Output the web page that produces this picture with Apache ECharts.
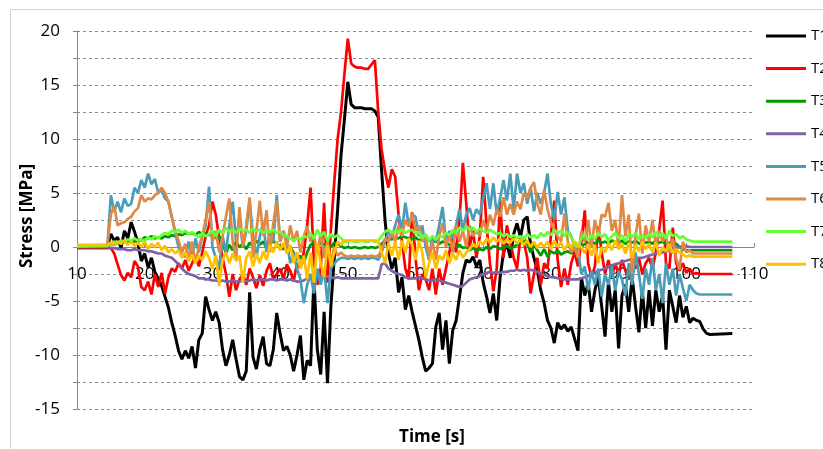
<!DOCTYPE html>
<html>
<head>
<meta charset="utf-8">
<script src="https://cdn.jsdelivr.net/npm/echarts@6/dist/echarts.min.js"></script>
<style>
html,body{margin:0;padding:0;background:#fff;}
#chart{width:823px;height:449px;}
</style>
</head>
<body>
<div id="chart"></div>
<script>
// Time stamps [s]
const TIME = [10,
14.5,15,15.5,16,16.5,17,17.5,18,18.5,19,
19.5,20,20.5,21,21.5,22,22.5,23,23.5,24,
24.5,25,25.5,26,26.5,27,27.5,28,28.5,29,
29.5,30,30.5,31,31.5,32,32.5,33,33.5,34,
34.5,35,35.5,36,36.5,37,37.5,38,38.5,39,
39.5,40,40.5,41,41.5,42,42.5,43,43.5,44,
44.5,45,45.5,46,46.5,47,47.5,48,48.5,49,
49.5,50,50.5,51,51.5,52,52.5,53,53.5,54,
54.5,55,55.5,56,56.5,57,57.5,58,58.5,59,
59.5,60,60.5,61,61.5,62,62.5,63,63.5,64,
64.5,65,65.5,66,66.5,67,67.5,68,68.5,69,
69.5,70,70.5,71,71.5,72,72.5,73,73.5,74,
74.5,75,75.5,76,76.5,77,77.5,78,78.5,79,
79.5,80,80.5,81,81.5,82,82.5,83,83.5,84,
84.5,85,85.5,86,86.5,87,87.5,88,88.5,89,
89.5,90,90.5,91,91.5,92,92.5,93,93.5,94,
94.5,95,95.5,96,96.5,97,97.5,98,98.5,99,
99.5,100,100.5,101,101.5,102,102.5,103,103.5,
106.8];

const T1 = [0,
0, 1.2, 0.6, 0.9, -0.1, 1.5, 0.8, 2.3, 1.4, 0.4,
-1.3, -0.6, -1.9, -1.0, -2.3, -2.9, -3.6, -4.6, -5.6, -7.0,
-8.2, -9.6, -10.4, -9.6, -10.3, -9.2, -11.2, -8.6, -8.0, -4.6,
-5.8, -6.8, -6.0, -7.0, -9.5, -11.0, -10.0, -8.6, -10.4, -12.0,
-12.3, -11.5, -4.2, -10.2, -11.3, -9.5, -8.3, -10.8, -11.0, -9.5,
-6.1, -8.0, -9.6, -9.2, -10.0, -11.5, -10.0, -8.2, -12.3, -10.5,
-11.0, -2.8, -9.5, -11.8, -6.0, -12.6, -5.5, -1.0, 3.5, 8.5,
11.8, 15.3, 13.2, 12.9, 12.9, 12.9, 12.8, 12.8, 12.8, 12.6,
12.0, 7.0, 2.5, -0.6, -2.0, -1.0, -4.2, -2.8, -5.8, -4.5,
-6.0, -7.3, -8.6, -10.2, -11.5, -11.2, -10.8, -7.4, -6.1, -9.5,
-6.8, -10.8, -7.7, -6.8, -4.6, -2.4, -1.2, -1.4, -0.9, -1.8,
-1.2, -3.3, -4.6, -6.1, -4.3, -6.8, -2.8, -0.5, 0.3, -1.0,
1.2, 2.2, 0.9, 2.5, 2.8, 0.2, -1.0, -2.2, -4.0, -5.2,
-6.8, -7.5, -8.9, -7.0, -7.6, -7.2, -7.8, -7.4, -8.5, -9.6,
-2.8, -4.5, -3.3, -6.0, -4.0, -2.8, -5.5, -8.3, -3.2, -6.0,
-4.0, -9.4, -4.5, -3.5, -6.0, -2.8, -5.5, -7.9, -4.0, -7.5,
-4.0, -7.3, -4.0, -6.0, -4.5, -9.5, -4.0, -5.5, -7.0, -4.5,
-6.5, -5.5, -7.0, -6.6, -6.8, -6.9, -7.6, -8.0, -8.1,
-8.0];

const T2 = [-0.1,
-0.1, -0.1, -0.6, -1.6, -2.6, -3.1, -2.4, -2.8, -1.3, -1.8,
-3.7, -4.0, -3.2, -4.4, -2.5, -3.7, -2.4, -4.3, -2.8, -2.0,
-2.3, -1.5, -2.0, -1.2, -2.2, -1.5, -0.8, -1.8, -0.5, 1.0,
2.0, 4.2, 3.0, 0.8, -1.0, -2.5, -4.6, -2.5, -4.0, -3.0,
-2.5, -3.5, -2.0, -2.8, -3.8, -2.6, -3.6, -2.2, -1.5, -3.0,
-2.5, -2.0, -3.0, -1.6, -2.2, -3.2, -1.5, -2.0, -0.5, 2.0,
5.5, -1.5, -3.5, -2.0, 4.1, -3.3, 1.6, 6.0, 10.0, 12.5,
16.0, 19.3, 17.0, 16.7, 16.6, 16.6, 16.5, 16.5, 16.9, 17.3,
12.4, 9.0, 7.0, 5.5, 7.2, 6.5, 3.0, 0.5, -2.0, -3.0,
3.2, -1.0, -4.0, -2.5, -3.0, -4.0, -2.0, -4.4, -2.0, -3.5,
-2.0, -0.5, 1.0, -0.5, 2.5, 7.8, 4.0, 0.0, 1.5, -1.0,
1.0, 6.5, 2.0, -1.5, -4.1, -2.0, 4.3, -1.0, 2.0, 0.5,
-1.0, -2.0, 1.0, 0.5, -1.0, -4.3, -2.5, -1.0, -3.5, -1.5,
-2.0, 1.0, 4.3, -1.2, -3.7, -2.0, -3.5, -1.5, -0.5, -1.8,
0.5, 3.4, -1.5, -2.8, -1.8, 1.9, -0.5, -2.5, -1.2, -2.8,
-1.5, -2.5, -1.2, -2.2, -3.0, -1.5, -2.0, -1.0, -2.5, -1.5,
-1.0, -2.0, -0.5, 1.6, 4.3, -1.5, -2.0, 1.8, -1.5, -2.2,
-1.5, -2.4, -2.0, -2.5, -2.4, -2.5, -2.5, -2.5, -2.5,
-2.5];

const T3 = [0,
0.0, 0.3, 0.2, 0.4, 0.3, 0.5, 0.4, 0.6, 0.5, 0.7,
0.6, 0.9, 0.8, 1.0, 0.8, 0.9, 0.8, 1.0, 0.9, 1.1,
1.0, 1.2, 1.1, 1.3, 1.2, 1.3, 1.1, 1.4, 1.2, 1.3,
1.1, 1.3, 0.8, 1.0, 0.4, -0.6, 0.2, -0.3, 0.5, 0.0,
0.3, -0.2, 0.4, 0.0, 0.6, 0.2, 0.5, -0.1, 0.4, 0.5,
0.4, 0.0, -0.2, -0.1, 0.0, -0.5, -1.2, -0.8, -1.5, -0.5,
0.2, 0.4, 0.0, 0.5, 0.2, 0.3, 0.0, 0.4, 0.3, 0.1,
-0.1, 0.0, -0.1, 0.0, -0.1, -0.1, 0.0, -0.1, 0.0, -0.1,
0.0, 0.3, 0.6, 0.8, 0.7, 0.9, 0.8, 1.0, 0.9, 0.8,
0.7, 0.9, 0.6, 0.8, 0.5, 0.7, 0.4, 0.6, 0.3, 0.5,
0.4, 0.2, 0.3, 0.0, 0.2, -0.1, 0.0, -0.3, -0.1, -0.3,
-0.2, -0.3, 0.0, -0.2, 0.1, 0.0, -0.2, 0.0, 0.1, -0.1,
0.0, 0.2, 0.5, 0.9, 0.3, -0.5, 0.2, -0.3, -0.8, -0.2,
-0.9, -0.4, -0.6, -0.3, -0.7, -0.5, -0.4, -0.6, -0.3, -0.3,
0.0, 0.3, 0.2, 0.5, 0.3, 0.6, 0.4, 0.5, 0.3, 0.6,
0.5, 0.4, 0.6, 0.3, 0.5, 0.4, 0.6, 0.3, 0.5, 0.4,
0.5, 0.3, 0.6, 0.4, 0.5, 0.3, 0.4, 0.2, 0.3, 0.0,
-0.2, -0.3, -0.3, -0.3, -0.3, -0.3, -0.3, -0.3, -0.3,
-0.3];

const T4 = [0,
0.0, -0.1, -0.1, -0.2, -0.2, -0.2, -0.3, -0.3, -0.2, -0.3,
-0.3, -0.3, -0.4, -0.4, -0.5, -0.6, -0.6, -0.8, -0.9, -1.0,
-1.3, -1.6, -2.0, -2.3, -2.5, -2.6, -2.7, -2.9, -2.9, -3.0,
-3.0, -3.1, -3.1, -3.2, -3.1, -3.2, -3.2, -3.1, -3.2, -3.2,
-3.1, -3.2, -3.1, -3.0, -3.1, -3.0, -3.0, -3.1, -3.0, -3.0,
-3.1, -3.0, -3.0, -3.1, -3.0, -3.1, -3.2, -3.2, -3.1, -2.9,
-2.9, -2.8, -2.7, -2.7, -2.8, -2.7, -2.8, -2.9, -2.8, -2.9,
-2.9, -2.9, -2.9, -2.9, -2.9, -2.9, -2.9, -2.9, -2.9, -2.9,
-2.9, -1.6, -1.5, -2.0, -2.2, -2.4, -2.5, -2.6, -2.8, -2.9,
-2.9, -2.9, -2.8, -2.9, -3.0, -3.1, -3.1, -3.0, -3.1, -3.2,
-3.3, -3.4, -3.5, -3.6, -3.7, -3.6, -3.3, -3.0, -2.9, -2.8,
-2.7, -2.5, -2.4, -2.3, -2.4, -2.3, -2.4, -2.3, -2.3, -2.2,
-2.2, -2.1, -2.2, -2.1, -2.2, -2.1, -2.2, -2.3, -2.5, -2.6,
-2.7, -2.8, -2.8, -2.9, -2.9, -3.0, -3.0, -3.0, -3.0, -3.0,
-2.9, -2.8, -2.7, -2.5, -2.4, -2.2, -2.1, -2.0, -1.8, -1.7,
-1.6, -1.5, -1.4, -1.3, -1.2, -1.2, -1.1, -1.0, -1.0, -0.9,
-0.8, -0.7, -0.6, -0.6, -0.5, -0.4, -0.3, -0.2, -0.1, 0.0,
0.1, 0.1, 0.0, 0.0, 0.0, 0.0, 0.0, 0.0, 0.0,
0.0];

const T5 = [0.05,
0.1, 4.8, 3.3, 4.2, 3.2, 4.5, 3.8, 4.0, 5.5, 5.0,
6.2, 5.5, 6.8, 5.8, 6.3, 5.0, 5.3, 4.5, 4.2, 2.8,
1.3, 0.0, -0.8, -0.9, 0.5, -1.0, 0.8, -0.5, 1.0, 2.0,
5.6, 0.0, -1.0, -2.0, 1.0, -0.5, 2.0, 4.2, 0.5, 2.8,
0.0, 1.5, 4.3, 1.0, -1.0, 1.0, 2.3, -0.5, 1.5, 0.5,
4.8, 0.5, 1.5, 0.5, -1.5, -0.5, -2.0, -3.0, -5.2, -3.5,
-2.5, -4.3, -2.0, -3.5, -2.0, -5.2, -2.0, -1.5, -1.2, -1.0,
-1.0, -1.1, -1.0, -1.1, -1.0, -1.1, -1.0, -1.1, -1.0, -1.0,
-1.2, -0.5, 0.5, 1.5, 0.8, 2.0, 3.0, 1.5, 4.1, 2.0,
3.0, 2.8, 1.0, 2.0, 0.0, -1.2, 1.0, 0.5, 2.0, 3.7,
0.5, 1.5, 0.8, 2.0, 3.5, 1.5, 3.0, 3.6, 2.5, 3.5,
3.0, 4.5, 5.9, 3.5, 5.9, 3.0, 4.5, 6.2, 4.3, 6.8,
3.5, 6.8, 5.0, 5.9, 4.0, 5.5, 3.3, 5.0, 4.0, 5.0,
6.8, 4.0, 2.5, 5.1, 3.0, 4.6, 1.5, 1.0, 0.0, -0.3,
-2.5, -1.8, -4.0, -2.2, -3.5, -2.0, -4.6, -2.5, -3.5, -1.8,
-4.0, -2.2, -3.0, -4.5, -1.5, -3.5, -0.5, -2.5, -4.8, -2.0,
-3.5, -1.0, -4.0, -2.5, -5.2, -1.5, -3.5, -2.0, -4.5, -2.5,
-3.8, -5.0, -3.5, -4.0, -4.3, -4.4, -4.4, -4.4, -4.4,
-4.4];

const T6 = [0.1,
0.2, 3.0, 3.8, 2.0, 2.2, 2.3, 2.6, 2.8, 3.3, 3.6,
4.8, 4.2, 4.5, 4.4, 4.8, 5.0, 5.5, 5.0, 4.2, 2.8,
1.5, 0.6, -0.5, 0.3, -1.0, 0.5, -1.5, 0.0, 1.0, 2.5,
4.2, 0.5, 1.5, -0.5, 1.0, 2.8, 4.5, 0.5, -1.2, 3.7,
0.0, 2.0, 4.6, -1.0, 1.5, 4.3, 1.0, 3.4, -0.5, 2.2,
4.3, 0.5, 1.5, 0.0, 2.0, 0.5, 1.5, -0.5, 1.0, 1.9,
0.5, 1.0, -0.5, 1.3, -1.0, 0.5, -1.5, 0.0, -0.8, -0.5,
-0.8, -0.9, -0.8, -0.9, -0.8, -0.9, -0.8, -0.9, -0.8, -0.9,
-0.8, -0.3, 0.8, 0.5, 1.5, 0.5, 2.0, 1.0, 2.5, 1.9,
3.1, 1.5, 2.0, 0.5, 1.0, -1.0, 0.5, -1.2, 1.0, 2.2,
0.0, 1.2, -0.5, 2.0, 0.5, 1.5, 0.0, 2.0, 1.0, 1.5,
1.0, 2.5, 1.5, 3.0, 2.0, 3.5, 2.8, 4.6, 3.0, 4.0,
3.0, 4.2, 3.5, 5.0, 4.5, 5.5, 6.0, 4.0, 3.0, 5.3,
3.5, 2.3, 1.5, 1.0, 0.5, 3.1, 0.5, -0.5, 0.0, -1.0,
1.5, 0.5, 2.5, 0.0, 2.5, 1.0, 3.0, 2.8, 4.1, 1.5,
2.5, 0.0, 4.8, 1.0, 3.0, -2.5, 1.0, 3.1, -0.6, 2.0,
0.5, 2.5, 0.0, 1.5, 0.5, 1.0, -0.5, 0.8, -1.0, -2.1,
0.5, -0.5, -0.3, -0.6, -0.6, -0.6, -0.6, -0.6, -0.6,
-0.6];

const T7 = [0.05,
0.1, 0.3, 0.5, 0.4, 0.6, 0.5, 0.7, 0.6, 0.8, 0.6,
0.7, 0.6, 0.9, 0.7, 1.0, 0.8, 1.1, 1.3, 1.2, 1.5,
1.4, 1.6, 1.3, 1.5, 1.2, 1.4, 1.1, 0.9, 1.3, 1.0,
1.2, 1.5, 1.0, 1.6, 1.3, 1.8, 1.4, 1.6, 1.3, 1.7,
1.5, 1.6, 1.3, 1.7, 1.5, 1.6, 1.3, 1.5, 1.4, 1.6,
1.3, 1.4, 1.1, 1.0, 0.8, 0.6, 0.8, 0.7, 1.0, 0.9,
1.3, 0.8, 1.6, 1.0, 1.4, 0.6, 1.2, 0.9, 1.1, 0.8,
0.5, 0.5, 0.6, 0.5, 0.5, 0.6, 0.5, 0.5, 0.6, 0.5,
0.6, 1.0, 1.4, 1.6, 1.3, 1.5, 1.4, 1.6, 1.3, 1.5,
1.6, 1.2, 1.4, 0.8, 1.2, 0.6, 1.0, 0.7, 1.1, 0.9,
1.3, 1.1, 1.6, 1.3, 1.8, 1.5, 1.9, 1.6, 1.8, 1.4,
1.7, 1.5, 1.3, 1.6, 1.4, 1.2, 1.3, 1.0, 1.2, 0.9,
1.1, 0.8, 1.0, 0.7, 1.2, 0.9, 1.1, 0.8, 1.3, 1.0,
1.4, 1.1, 1.6, 1.3, 1.5, 1.0, 1.4, 0.9, 0.2, 0.0,
0.8, 1.2, 0.6, 1.1, 0.7, 1.3, 0.9, 1.2, 0.6, 1.0,
1.3, 0.8, 1.1, 0.5, 1.2, 0.9, 1.3, 0.7, 1.1, 0.8,
1.2, 0.9, 1.4, 1.0, 1.3, 0.8, 1.5, 1.0, 1.2, 0.8,
1.0, 0.7, 0.6, 0.5, 0.5, 0.5, 0.5, 0.5, 0.5,
0.5];

const T8 = [0.2,
0.2, 0.4, 0.2, 0.5, 0.3, 0.6, 0.2, 0.5, 0.1, 0.4,
0.0, 0.5, -0.2, 0.3, 0.0, 0.4, -0.3, 0.1, -0.5, -0.2,
-0.6, -0.3, -1.0, -0.5, -1.3, -0.7, -1.5, -0.8, -1.2, -0.4,
-1.0, -2.0, -0.8, -3.6, -1.2, -0.5, -1.5, -0.6, -1.3, -0.8,
-3.3, -1.0, -0.4, -1.8, -0.6, -1.5, -0.4, -1.2, 0.2, -0.5,
0.5, -0.3, 0.4, -0.6, 0.2, -1.5, -0.5, -2.0, -0.8, -3.0,
-0.5, -3.3, 0.4, -1.5, -2.8, 0.2, -1.8, -0.5, 0.5, 0.2,
0.6, 0.6, 0.6, 0.6, 0.6, 0.6, 0.6, 0.6, 0.6, 0.6,
0.5, -0.5, -1.5, 0.4, -0.8, 0.5, -1.2, 0.6, -0.5, 0.8,
0.2, -1.2, 0.6, -0.5, -2.8, -1.5, -0.5, -2.0, -0.8, -1.2,
-0.3, -1.5, -0.6, -1.2, -0.3, -1.0, -0.5, -0.2, 0.3, 0.0,
0.5, 0.2, 0.8, 0.4, 0.9, 0.5, 0.8, 0.3, 0.7, 0.4,
0.8, 0.3, 0.7, 0.2, 0.6, 0.0, 0.5, -0.1, 0.4, 0.0,
0.5, -0.2, 0.6, 0.0, 0.4, -0.3, 0.3, 0.0, 0.5, 0.2,
0.0, -0.6, 0.3, -0.8, 0.2, -1.5, 0.0, -0.5, 0.4, -0.3,
0.6, -0.2, 0.3, -0.6, 0.4, -1.0, 0.2, -0.4, 0.5, -0.2,
0.3, -0.5, 0.4, -0.8, 0.0, -0.4, 0.3, -0.6, -0.2, -0.5,
-0.7, -0.9, -0.8, -0.9, -0.9, -0.9, -0.9, -0.9, -0.9,
-0.9];

const SERIES_NAMES = ['T1','T2','T3','T4','T5','T6','T7','T8'];
const SERIES_VALUES = [T1, T2, T3, T4, T5, T6, T7, T8];
const COLORS = ['#000000','#ff0000','#009a00','#7e62a6','#4a9db8','#df8a44','#66ff33','#ffc000'];
const X_TICKS = {min: 10, max: 110, interval: 10};
const Y_TICKS = {min: -15, max: 20, interval: 2.5};

const FONT = '"Open Sans", "Liberation Sans", sans-serif';

const GRID = {left: 77, right: 69, top: 31, bottom: 40};
const PLOT_H = 449 - GRID.top - GRID.bottom;
// the x axis sits on y = 0: shift it up from the bottom of the plot
const ZERO_OFFSET = -PLOT_H * (0 - Y_TICKS.min) / (Y_TICKS.max - Y_TICKS.min);

const chart = echarts.init(document.getElementById('chart'), null, {renderer: 'canvas'});

const series = SERIES_NAMES.map((name, i) => ({
  name: name,
  type: 'line',
  data: TIME.map((t, k) => [t, SERIES_VALUES[i][k]]),
  showSymbol: false,
  symbol: 'none',
  lineStyle: {color: COLORS[i], width: i === 0 ? 3 : 2.7},
  itemStyle: {color: COLORS[i]},
  emphasis: {disabled: true},
  animation: false
}));

chart.setOption({
  animation: false,
  backgroundColor: '#ffffff',
  grid: {left: GRID.left, right: GRID.right, top: GRID.top, bottom: GRID.bottom, containLabel: false},
  xAxis: {
    type: 'value',
    position: 'bottom',
    offset: ZERO_OFFSET,
    min: X_TICKS.min, max: X_TICKS.max, interval: X_TICKS.interval,
    axisLine: {show: true, onZero: false, lineStyle: {color: '#868686', width: 1}},
    axisTick: {show: true, inside: true, length: 4, lineStyle: {color: '#868686'}},
    axisLabel: {color: '#000', fontSize: 17, fontFamily: FONT, margin: 19},
    splitLine: {show: false}
  },
  yAxis: {
    type: 'value',
    min: Y_TICKS.min, max: Y_TICKS.max, interval: Y_TICKS.interval,
    axisLine: {show: true, onZero: false, lineStyle: {color: '#868686', width: 1}},
    axisTick: {show: true, inside: false, length: 4, lineStyle: {color: '#868686'}},
    axisLabel: {
      color: '#000', fontSize: 17, fontFamily: FONT, margin: 17,
      formatter: v => (Math.abs(v % 5) < 1e-9 ? String(v) : '')
    },
    splitLine: {show: true, lineStyle: {color: '#8c8c8c', width: 1, type: [3, 3]}}
  },
  legend: {
    orient: 'vertical',
    left: 761, top: 23,
    icon: 'rect',
    itemWidth: 40, itemHeight: 3,
    itemGap: 16.6,
    data: SERIES_NAMES,
    textStyle: {color: '#000', fontSize: 15, lineHeight: 16, fontFamily: FONT},
    selectedMode: false
  },
  graphic: [
    {type: 'rect', silent: true, z: -10,
     shape: {x: 10.5, y: 9.5, width: 900, height: 600},
     style: {fill: 'none', stroke: '#d4d4d4', lineWidth: 1}},
    {type: 'text', silent: true, x: 27, y: 216, rotation: Math.PI / 2,
     style: {text: 'Stress [MPa]', fill: '#000', font: 'bold 17px ' + FONT,
             textAlign: 'center', textVerticalAlign: 'middle'}},
    {type: 'text', silent: true, x: 432, y: 437,
     style: {text: 'Time [s]', fill: '#000', font: 'bold 17px ' + FONT,
             textAlign: 'center', textVerticalAlign: 'middle'}}
  ],
  series: series
});
</script>
</body>
</html>
